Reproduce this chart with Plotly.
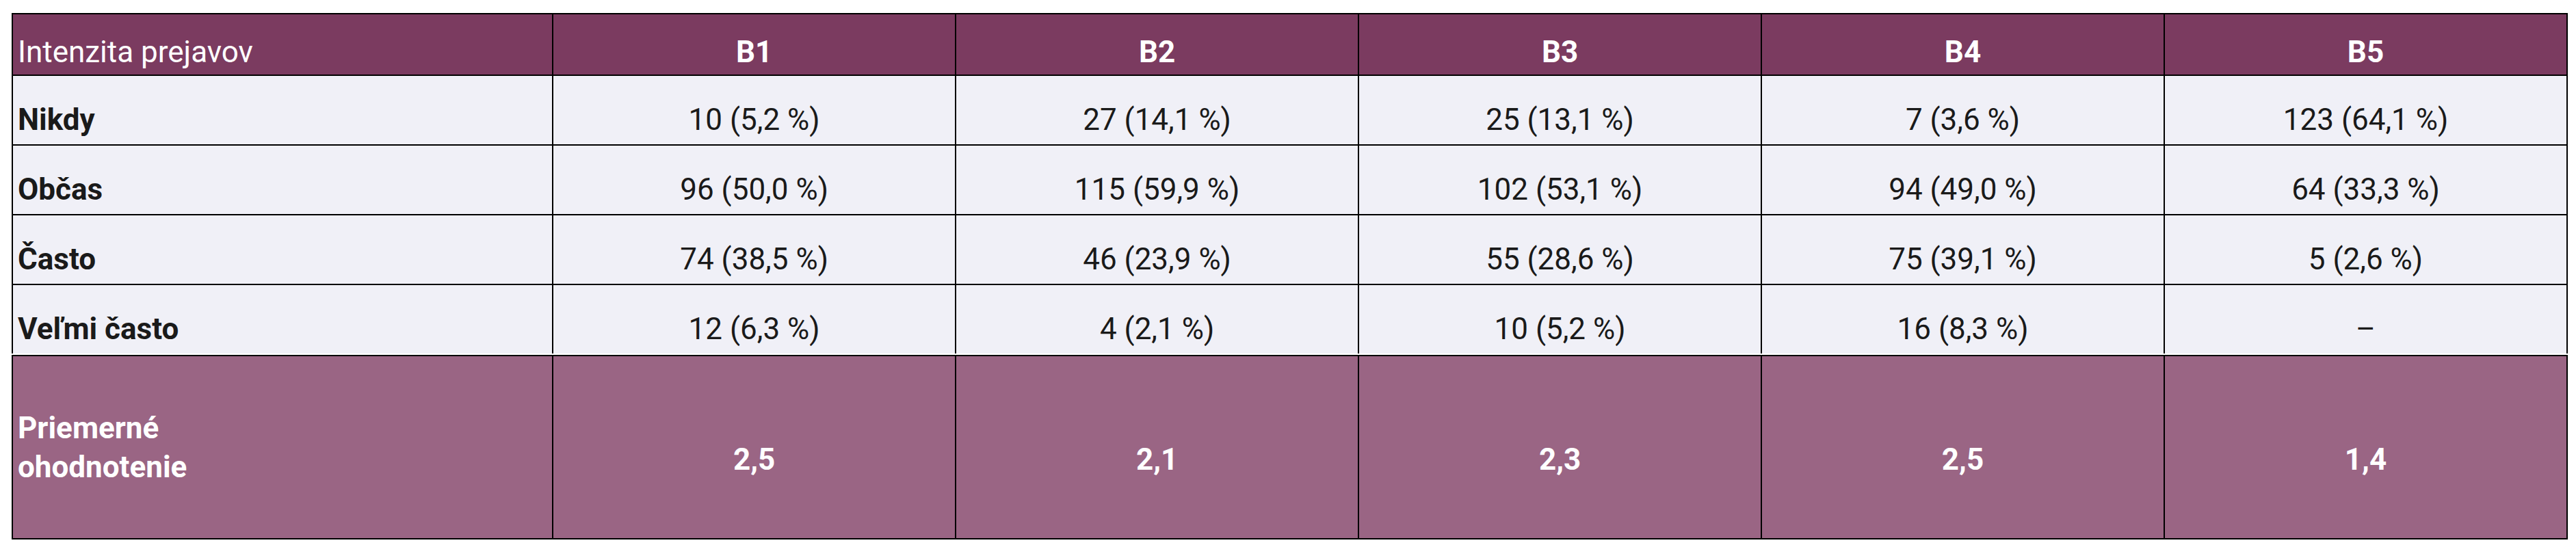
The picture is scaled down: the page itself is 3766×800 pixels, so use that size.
import plotly.graph_objects as go

columns = ["Intenzita prejavov", "B1", "B2", "B3", "B4", "B5"]
row_labels = ["Nikdy", "Občas", "Často", "Veľmi často"]
b1 = ["10 (5,2 %)", "96 (50,0 %)", "74 (38,5 %)", "12 (6,3 %)"]
b2 = ["27 (14,1 %)", "115 (59,9 %)", "46 (23,9 %)", "4 (2,1 %)"]
b3 = ["25 (13,1 %)", "102 (53,1 %)", "55 (28,6 %)", "10 (5,2 %)"]
b4 = ["7 (3,6 %)", "94 (49,0 %)", "75 (39,1 %)", "16 (8,3 %)"]
b5 = ["123 (64,1 %)", "64 (33,3 %)", "5 (2,6 %)", "–"]
summary = ["Priemerné<br>ohodnotenie", "2,5", "2,1", "2,3", "2,5", "1,4"]

W, H = 3766, 800
widths = [330, 246, 246, 246, 246, 246]
font = "Liberation Sans Narrow, Roboto, sans-serif"
x0, x1 = 10 / W, 3745 / W
FS = 44


def pad(text, px):
    # plotly tables have no vertical alignment, so push text down with a small blank line
    return "<span style='font-size:%dpx'> </span><br>%s" % (px, text)


main = go.Table(
    domain=dict(x=[x0, x1], y=[1 - 510 / H, 1 - 12 / H]),
    columnwidth=widths,
    header=dict(values=[pad(c if i == 0 else "<b>%s</b>" % c, 6) for i, c in enumerate(columns)],
                fill_color="#7b3b60", line=dict(color="black", width=2),
                font=dict(color="white", size=FS, family=font),
                align=["left"] + ["center"] * 5, height=88),
    cells=dict(values=[[pad("<b>%s</b>" % r, 16) for r in row_labels]]
               + [[pad(v, 16) for v in col] for col in (b1, b2, b3, b4, b5)],
               fill_color="#f0f0f7", line=dict(color="black", width=2),
               font=dict(color="#1a1a1a", size=FS, family=font),
               align=["left"] + ["center"] * 5, height=102),
)

summ = go.Table(
    domain=dict(x=[x0, x1], y=[1 - 782 / H, 1 - 512 / H]),
    columnwidth=widths,
    header=dict(values=[pad("<b>%s</b>" % summary[0], 60)]
                + [pad("<b>%s</b>" % s, 110) for s in summary[1:]],
                fill_color="#9a6584", line=dict(color="black", width=2),
                font=dict(color="white", size=FS, family=font),
                align=["left"] + ["center"] * 5, height=268),
)

fig = go.Figure(data=[main, summ])
fig.update_layout(width=W, height=H, margin=dict(l=0, r=0, t=0, b=0),
                  paper_bgcolor="white")
fig.write_html("out.html")
